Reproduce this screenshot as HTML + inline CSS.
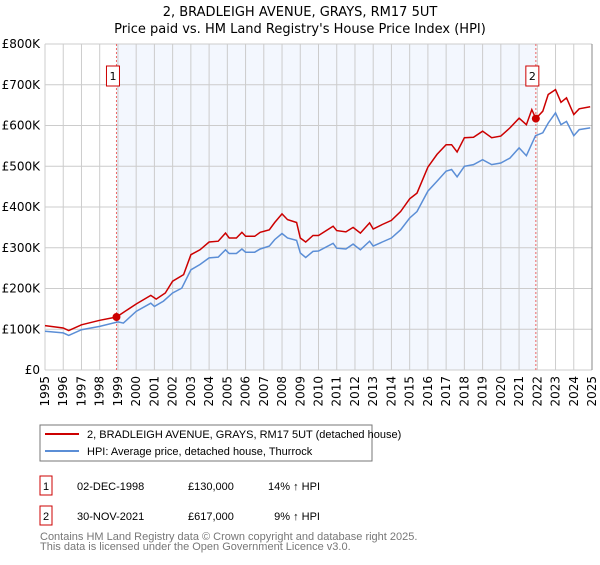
<!DOCTYPE html>
<html><head><meta charset="utf-8"><style>
body{margin:0;background:#fff;font-family:"Liberation Sans","DejaVu Sans",sans-serif;}
svg text{font-family:"DejaVu Sans","Liberation Sans",sans-serif;}
svg text.ls{font-family:"Liberation Sans",sans-serif;}
</style></head><body>
<svg width="600" height="560" viewBox="0 0 600 560">
<text x="300" y="16" text-anchor="middle" font-size="13">2, BRADLEIGH AVENUE, GRAYS, RM17 5UT</text>
<text x="300" y="33" text-anchor="middle" font-size="13">Price paid vs. HM Land Registry's House Price Index (HPI)</text>
<g id="plot"></g>
<rect x="40" y="425" width="332" height="36" fill="#fff" stroke="#777"/>
<line x1="45" y1="434" x2="79" y2="434" stroke="#cc0000" stroke-width="2"/>
<text class="ls" x="87" y="438" font-size="11">2, BRADLEIGH AVENUE, GRAYS, RM17 5UT (detached house)</text>
<line x1="45" y1="451" x2="79" y2="451" stroke="#5b8ed6" stroke-width="2"/>
<text class="ls" x="87" y="455" font-size="11">HPI: Average price, detached house, Thurrock</text>
<g font-size="11">
<rect x="40" y="476" width="12" height="19" fill="none" stroke="#cc0000"/>
<text class="ls" x="46" y="490" text-anchor="middle">1</text>
<text class="ls" x="77" y="490">02-DEC-1998</text>
<text class="ls" x="188" y="490">£130,000</text>
<text class="ls" x="320" y="490" text-anchor="end">14% ↑ HPI</text>
</g>
<g font-size="11">
<rect x="40" y="506" width="12" height="19" fill="none" stroke="#cc0000"/>
<text class="ls" x="46" y="520" text-anchor="middle">2</text>
<text class="ls" x="77" y="520">30-NOV-2021</text>
<text class="ls" x="188" y="520">£617,000</text>
<text class="ls" x="320" y="520" text-anchor="end">9% ↑ HPI</text>
</g>
<text class="ls" x="40" y="540" font-size="11" fill="#777">Contains HM Land Registry data © Crown copyright and database right 2025.</text>
<text class="ls" x="40" y="550" font-size="11" fill="#777">This data is licensed under the Open Government Licence v3.0.</text>
</svg>
<script>
const hpiYears=[1995,1996,1996.3,1997,1998,1999,1999.3,2000,2000.8,2001,2001.5,2002,2002.5,2003,2003.5,2004,2004.5,2004.9,2005.1,2005.5,2005.8,2006,2006.5,2006.8,2007.3,2007.6,2008,2008.3,2008.8,2009,2009.3,2009.7,2010,2010.8,2011,2011.5,2011.9,2012.3,2012.8,2013,2013.5,2014,2014.5,2015,2015.4,2016,2016.5,2017,2017.3,2017.6,2018,2018.5,2019,2019.5,2020,2020.5,2021,2021.4,2021.9,2022.3,2022.6,2023,2023.3,2023.6,2024,2024.3,2024.9];
const hpiValues=[95,91,85,99,107,118,115,144,164,156,169,189,201,246,259,275,277,295,286,286,297,289,289,297,304,320,335,324,318,287,276,291,292,311,299,297,309,295,316,304,314,324,344,373,389,439,463,488,492,474,500,504,516,504,508,520,545,526,575,582,606,631,602,610,575,590,594];
const priceYears=[1995,1996,1996.3,1997,1998,1998.92,2000,2000.8,2001.1,2001.6,2002,2002.6,2003,2003.5,2004,2004.5,2004.9,2005.1,2005.5,2005.8,2006,2006.5,2006.8,2007.3,2007.6,2008,2008.3,2008.8,2009,2009.3,2009.7,2010,2010.8,2011,2011.5,2011.9,2012.3,2012.8,2013,2013.5,2014,2014.5,2015,2015.4,2016,2016.5,2017,2017.3,2017.6,2018,2018.5,2019,2019.5,2020,2020.5,2021,2021.4,2021.7,2021.92,2022.3,2022.6,2023,2023.3,2023.6,2024,2024.3,2024.9];
const priceValues=[109,103,97,111,122,130,162,183,174,189,218,234,283,295,314,316,336,324,324,338,328,328,338,344,362,383,369,362,324,314,330,330,353,342,339,350,336,361,346,357,367,389,420,434,498,529,553,553,535,570,571,586,570,574,594,618,602,639,617,635,676,688,657,668,627,641,646];
const saleYears=[1998.92,2021.92];
const salePrices=[130,617];
const yTicks=[0,100,200,300,400,500,600,700,800];
const yTickLabels=["£0","£100K","£200K","£300K","£400K","£500K","£600K","£700K","£800K"];
const xTicks=[1995,1996,1997,1998,1999,2000,2001,2002,2003,2004,2005,2006,2007,2008,2009,2010,2011,2012,2013,2014,2015,2016,2017,2018,2019,2020,2021,2022,2023,2024,2025];

const L=45,R=592,T=44,B=370;
const xs=y=>L+(y-1995)/30*(R-L);
const ys=v=>B-v/800*(B-T);
const NS="http://www.w3.org/2000/svg";
const g=document.getElementById('plot');
function mk(tag,attrs,parent){const e=document.createElementNS(NS,tag);for(const k in attrs)e.setAttribute(k,attrs[k]);(parent||g).appendChild(e);return e;}

let e=mk('rect',{x:L,y:T,width:R-L,height:B-T,fill:'#fff'});


e=mk('rect',{x:xs(saleYears[0]),y:T,width:xs(saleYears[1])-xs(saleYears[0]),height:B-T,fill:'#f3f7fe'});


yTicks.forEach((v,i)=>{
  e=mk('line',{x1:L,x2:R,y1:ys(v),y2:ys(v),stroke:'#ccc','stroke-width':1});
  
  
  e=mk('text',{x:L-5,y:ys(v)+4,'text-anchor':'end','font-size':12});
  e.textContent=yTickLabels[i];
  
  
});
xTicks.forEach(y=>{
  e=mk('line',{x1:xs(y),x2:xs(y),y1:T,y2:B,stroke:'#ccc','stroke-width':1});
  
  
  e=mk('text',{x:0,y:0,'text-anchor':'end','font-size':12,transform:`translate(${xs(y)+4},${B+6}) rotate(-90)`});
  e.textContent=y;
  
  
});
saleYears.forEach((y,i)=>{
  e=mk('line',{x1:xs(y),x2:xs(y),y1:T,y2:B,stroke:'#e66','stroke-width':1,'stroke-dasharray':'2,2'});
  
  
  e=mk('rect',{x:xs(y)-10,y:66,width:13,height:20,fill:'#fff',stroke:'#cc0000'});
  
  
  e=mk('text',{x:xs(y)-3.5,y:80,'text-anchor':'middle','font-size':11});
  e.textContent=String(i+1);
  
  
});
function pts(xa,va){return xa.map((y,i)=>xs(y).toFixed(1)+','+ys(va[i]).toFixed(1)).join(' ');}
e=mk('polyline',{points:pts(hpiYears,hpiValues),fill:'none',stroke:'#5b8ed6','stroke-width':1.5});


e=mk('polyline',{points:pts(priceYears,priceValues),fill:'none',stroke:'#cc0000','stroke-width':1.5});


saleYears.forEach((y,i)=>{
  e=mk('circle',{cx:xs(y),cy:ys(salePrices[i]),r:4,fill:'#cc0000'});
  
  
});
e=mk('line',{x1:R,x2:R,y1:T,y2:B,stroke:'#888','stroke-width':1});


</script>
</body></html>
